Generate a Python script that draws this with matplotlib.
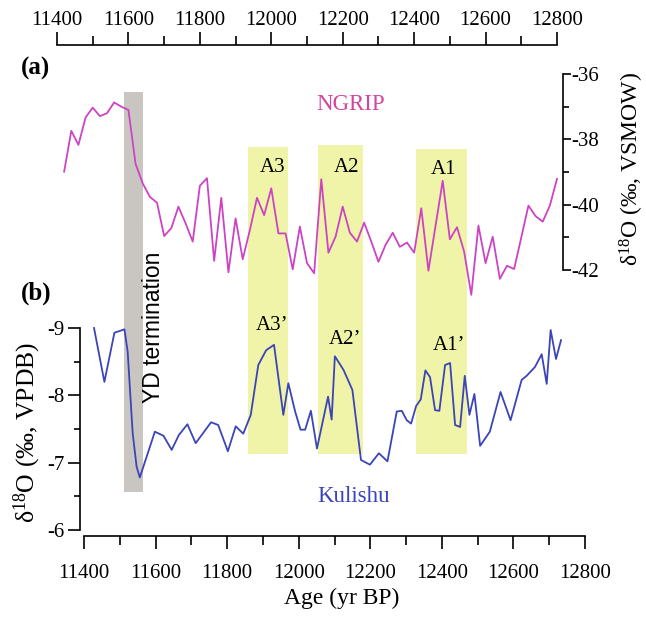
import matplotlib
matplotlib.use("Agg")
import matplotlib.pyplot as plt
from matplotlib.ticker import MultipleLocator
from matplotlib.patches import Rectangle
from matplotlib import transforms

plt.rcParams['font.family'] = ['Liberation Serif', 'DejaVu Serif']
plt.rcParams['mathtext.default'] = 'regular'
plt.rcParams['axes.unicode_minus'] = False

# NGRIP d18O (top panel, right axis)
ngrip_age = [11420, 11440, 11460, 11480, 11500, 11520, 11540, 11560, 11580, 11600,
             11620, 11640, 11660, 11680, 11700, 11720, 11740, 11760, 11780, 11800,
             11820, 11840, 11860, 11880, 11900, 11920, 11940, 11960, 11980, 12000,
             12020, 12040, 12060, 12080, 12100, 12120, 12140, 12160, 12180, 12200,
             12220, 12240, 12260, 12280, 12300, 12320, 12340, 12360, 12380, 12400,
             12420, 12440, 12460, 12480, 12500, 12520, 12540, 12560, 12580, 12600,
             12620, 12640, 12660, 12680, 12700, 12720, 12740, 12760, 12780, 12800]
ngrip_d18o = [-38.99, -37.74, -38.17, -37.33, -37.03, -37.29, -37.20, -36.87, -37.00, -37.10,
              -38.75, -39.35, -39.76, -39.94, -40.96, -40.72, -40.06, -40.57, -41.13, -39.42,
              -39.19, -41.72, -39.79, -42.07, -40.42, -41.67, -40.78, -39.79, -40.32, -39.50,
              -40.88, -40.88, -41.98, -40.67, -41.79, -42.10, -39.22, -41.47, -40.98, -40.06,
              -40.86, -41.13, -40.55, -41.13, -41.75, -41.23, -40.86, -41.29, -41.16, -41.47,
              -40.11, -42.02, -40.64, -39.27, -41.06, -40.69, -41.44, -42.76, -40.64, -41.79,
              -40.98, -42.27, -41.87, -41.97, -41.00, -40.03, -40.35, -40.52, -40.03, -39.21]

# Kulishu stalagmite d18O (bottom panel, left axis)
kul_age = [11428, 11457, 11485, 11513, 11522, 11536, 11547, 11556, 11598, 11622,
           11645, 11665, 11689, 11712, 11733, 11755, 11775, 11802, 11824, 11845,
           11866, 11887, 11909, 11931, 11957, 11971, 11990, 12005, 12018, 12034,
           12051, 12082, 12092, 12101, 12125, 12150, 12174, 12199, 12224, 12248,
           12274, 12288, 12302, 12314, 12328, 12341, 12354, 12367, 12381, 12393,
           12409, 12423, 12437, 12451, 12464, 12477, 12491, 12507, 12534, 12564,
           12592, 12623, 12637, 12660, 12679, 12693, 12704, 12719, 12733]
kul_d18o = [-9.00, -8.20, -8.93, -8.98, -8.65, -7.44, -6.94, -6.78, -7.46, -7.40,
            -7.19, -7.41, -7.57, -7.29, -7.44, -7.60, -7.56, -7.17, -7.54, -7.43,
            -7.71, -8.45, -8.67, -8.75, -7.71, -8.18, -7.76, -7.49, -7.49, -7.77,
            -7.21, -7.98, -7.64, -8.58, -8.38, -8.08, -7.04, -6.97, -7.14, -7.02,
            -7.76, -7.77, -7.63, -7.58, -7.84, -7.94, -8.37, -8.27, -7.78, -7.77,
            -8.45, -8.48, -7.56, -7.53, -8.29, -7.71, -8.02, -7.25, -7.46, -8.05,
            -7.63, -8.23, -8.29, -8.42, -8.61, -8.17, -8.97, -8.54, -8.82]

# shaded intervals (ages on the lower axis)
yd_span = (11512, 11565)
event_spans = [(11858, 11970), (12054, 12180), (12328, 12470)]

W, H = 646, 621
fig = plt.figure(figsize=(W / 100, H / 100), dpi=100)


def box(l, t, r, b):
    return [l / W, (H - b) / H, (r - l) / W, (b - t) / H]


ax_b = fig.add_axes(box(84, 328, 585, 536))
ax_t = fig.add_axes(box(57, 45, 557, 270))
ax_t.patch.set_visible(False)

# --- lower panel: Kulishu
ax_b.plot(kul_age, kul_d18o, color='#3b44b8', lw=1.3, zorder=3, clip_on=False)
ax_b.set_xlim(11400, 12800)
ax_b.set_ylim(-5.911, -9)
for s in ('top', 'right'):
    ax_b.spines[s].set_visible(False)
ax_b.spines['left'].set_position(('outward', 3))
ax_b.spines['left'].set_bounds(-9, -6)
ax_b.xaxis.set_major_locator(MultipleLocator(200))
ax_b.xaxis.set_minor_locator(MultipleLocator(100))
ax_b.yaxis.set_major_locator(MultipleLocator(1))
ax_b.yaxis.set_minor_locator(MultipleLocator(0.5))
ax_b.tick_params(axis='x', which='major', length=9.5, width=1.2, labelsize=15, pad=11)
ax_b.tick_params(axis='x', which='minor', length=6.5, width=1.2)
ax_b.tick_params(axis='y', which='major', length=9, width=1.2, labelsize=15, pad=2)
ax_b.tick_params(axis='y', which='minor', length=4.5, width=1.2)
for s in ax_b.spines.values():
    s.set_linewidth(1.2)
ax_b.set_xlabel('Age (yr BP)', fontsize=17)
ax_b.xaxis.set_label_coords(0.515, -0.25)
ax_b.set_ylabel('δ$^{18}$O (‰, VPDB)', fontsize=18.5)
ax_b.yaxis.set_label_coords(-0.114, 0.5)
ax_b.yaxis.label.set(va='center', ha='center')

# --- upper panel: NGRIP
ax_t.plot(ngrip_age, ngrip_d18o, color='#cc44c4', lw=1.3, zorder=3, clip_on=False)
ax_t.set_xlim(11400, 12800)
ax_t.set_ylim(-42, -35.112)
for s in ('bottom', 'left'):
    ax_t.spines[s].set_visible(False)
ax_t.spines['right'].set_position(('outward', 4))
ax_t.spines['right'].set_bounds(-42, -36)
ax_t.xaxis.tick_top()
ax_t.yaxis.tick_right()
ax_t.xaxis.set_major_locator(MultipleLocator(200))
ax_t.xaxis.set_minor_locator(MultipleLocator(100))
ax_t.yaxis.set_major_locator(MultipleLocator(2))
ax_t.yaxis.set_minor_locator(MultipleLocator(1))
ax_t.tick_params(axis='x', which='major', length=9.5, width=1.2, labelsize=15, pad=1)
ax_t.tick_params(axis='x', which='minor', length=6.5, width=1.2)
ax_t.tick_params(axis='y', which='major', length=5.5, width=1.2, labelsize=15, pad=1)
ax_t.tick_params(axis='y', which='minor', length=4.5, width=1.2)
for s in ax_t.spines.values():
    s.set_linewidth(1.2)
ax_t.yaxis.set_label_position('right')
ax_t.set_ylabel('δ$^{18}$O (‰, VSMOW)', fontsize=17)
ax_t.yaxis.set_label_coords(1.15, 0.449)
ax_t.yaxis.label.set(va='center', ha='center', rotation=90)

# shaded bands reach across both panels
band_tr = transforms.blended_transform_factory(ax_b.transData, fig.transFigure)
ax_b.add_patch(Rectangle((yd_span[0], (H - 492) / H), yd_span[1] - yd_span[0],
                         400 / H, transform=band_tr, clip_on=False,
                         facecolor='#c9c6c1', edgecolor='none', zorder=1))
for (a0, a1), top in zip(event_spans, (147, 145, 149)):
    ax_b.add_patch(Rectangle((a0, (H - 454) / H), a1 - a0, (454 - top) / H,
                             transform=band_tr, clip_on=False,
                             facecolor='#eff4a8', edgecolor='none', zorder=1))

# annotations
def ftext(x, y, s, **kw):
    fig.text(x / W, (H - y) / H, s, ha='center', va='center', **kw)


ftext(35, 68, '(a)', fontsize=18, fontweight='bold')
ftext(36, 293, '(b)', fontsize=18, fontweight='bold')
ftext(351, 105, 'NGRIP', fontsize=16.5, color='#d4439c')
ftext(354, 497, 'Kulishu', fontsize=16.5, color='#3b44b8')
ftext(153, 327, 'YD termination', fontsize=16.5, rotation=90,
      family=['Liberation Sans', 'DejaVu Sans'])
for x, y, s in [(273, 168, 'A3'), (347, 167, 'A2'), (444, 170, 'A1'),
                (272, 326, 'A3’'), (345, 339, 'A2’'), (449, 345, 'A1’')]:
    ftext(x, y, s, fontsize=15)

fig.savefig('out.png', dpi=100)
